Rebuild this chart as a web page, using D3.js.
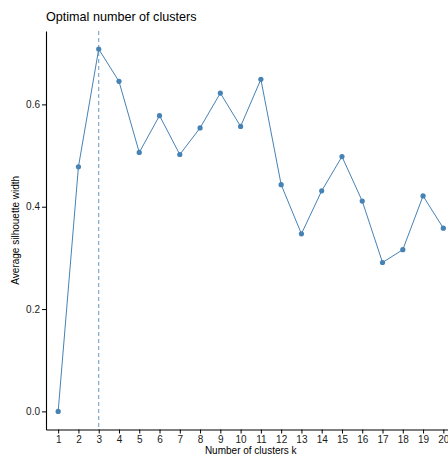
<!DOCTYPE html>
<html>
<head>
<meta charset="utf-8">
<script src="https://cdn.jsdelivr.net/npm/d3@7"></script>
<style>
  html, body { margin: 0; padding: 0; background: #fff; overflow: hidden; }
  svg { display: block; font-family: "Liberation Sans", Arial, sans-serif; }
</style>
</head>
<body>
<svg id="chart" width="448" height="455"></svg>
<script>
// Number of clusters tried
const clusterCounts = [1, 2, 3, 4, 5, 6, 7, 8, 9, 10, 11, 12, 13, 14, 15, 16, 17, 18, 19, 20];
// Average silhouette width for each k
const silhouette = [0.000, 0.478, 0.708, 0.645, 0.506, 0.578, 0.502, 0.554, 0.622, 0.557,
                    0.649, 0.443, 0.347, 0.431, 0.498, 0.411, 0.291, 0.316, 0.421, 0.358];
const yTicks = [0.0, 0.2, 0.4, 0.6];
const optimalK = 3;
const titleText = "Optimal number of clusters";
const xTitle = "Number of clusters k";
const yTitle = "Average silhouette width";

const svg = d3.select("#chart");
const panel = { left: 46, right: 455.5, top: 31, bottom: 429.5 };
const lineColor = "#4682B4";

const x = d3.scaleLinear().domain([0.4, 20.6]).range([panel.left, panel.right]);
const yMax = d3.max(silhouette);
const pad = (yMax - 0) * 0.05;
const y = d3.scaleLinear().domain([0 - pad, yMax + pad]).range([panel.bottom, panel.top]);

// x axis
const xAxis = svg.append("g")
  .attr("transform", `translate(0,${panel.bottom})`)
  .call(d3.axisBottom(x).tickValues(clusterCounts).tickFormat(d3.format("d")).tickSizeInner(4).tickSizeOuter(0).tickPadding(2));
// y axis
const yAxis = svg.append("g")
  .attr("transform", `translate(${panel.left},0)`)
  .call(d3.axisLeft(y).tickValues(yTicks).tickFormat(d3.format(".1f")).tickSizeInner(4).tickSizeOuter(0).tickPadding(2));

[xAxis, yAxis].forEach(g => {
  g.select(".domain").attr("stroke", "#000").attr("stroke-width", 1.1);
  g.selectAll(".tick line").attr("stroke", "#000").attr("stroke-width", 1);
  g.selectAll(".tick text").attr("fill", "#1a1a1a").style("font-size", "10px")
    .style("font-family", "'Liberation Sans', Arial, sans-serif");
});

// vertical marker at the optimal k
svg.append("line")
  .attr("x1", x(optimalK)).attr("x2", x(optimalK))
  .attr("y1", panel.top).attr("y2", panel.bottom)
  .attr("stroke", lineColor).attr("stroke-opacity", 0.75)
  .attr("stroke-width", 1.1).attr("stroke-dasharray", "4,3");

const pts = clusterCounts.map((k, i) => ({ k, v: silhouette[i] }));

svg.append("path")
  .datum(pts)
  .attr("fill", "none")
  .attr("stroke", lineColor)
  .attr("stroke-width", 1)
  .attr("d", d3.line().x(d => x(d.k)).y(d => y(d.v)));

svg.selectAll("circle.pt")
  .data(pts)
  .join("circle")
  .attr("class", "pt")
  .attr("cx", d => x(d.k))
  .attr("cy", d => y(d.v))
  .attr("r", 2.6)
  .attr("fill", lineColor);

// titles
svg.append("text")
  .attr("x", panel.left).attr("y", 21)
  .attr("fill", "#000")
  .style("font-size", "12.6px")
  .text(titleText);

svg.append("text")
  .attr("x", (panel.left + panel.right) / 2).attr("y", 454)
  .attr("text-anchor", "middle")
  .attr("fill", "#000")
  .style("font-size", "10px")
  .text(xTitle);

svg.append("text")
  .attr("transform", `translate(18.5,${(panel.top + panel.bottom) / 2}) rotate(-90)`)
  .attr("text-anchor", "middle")
  .attr("fill", "#000")
  .style("font-size", "10px")
  .text(yTitle);
</script>
</body>
</html>
